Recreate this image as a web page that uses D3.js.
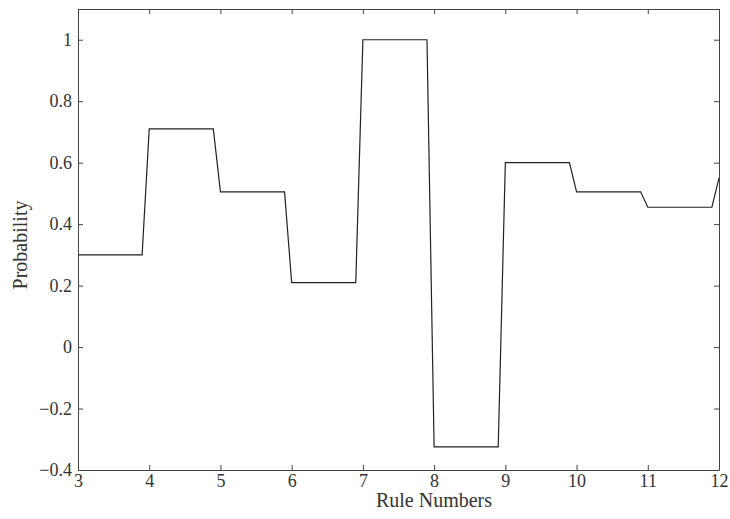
<!DOCTYPE html>
<html>
<head>
<meta charset="utf-8">
<script src="https://cdn.jsdelivr.net/npm/d3@7"></script>
<style>
  body { margin: 0; background: #fff; }
  text { font-family: "Liberation Serif", "DejaVu Serif", serif; fill: #333; }
</style>
</head>
<body>
<div id="chart"></div>
<script>
// rule number positions and probability values
var ruleX = [3, 3.9, 4, 4.9, 5, 5.9, 6, 6.9, 7, 7.9, 8, 8.9, 9, 9.9, 10, 10.9, 11, 11.9, 12];
var probY = [0.30, 0.30, 0.71, 0.71, 0.505, 0.505, 0.21, 0.21, 1.0, 1.0, -0.325, -0.325, 0.60, 0.60, 0.505, 0.505, 0.455, 0.455, 0.55];
var xTicks = [3, 4, 5, 6, 7, 8, 9, 10, 11, 12];
var yTicks = [-0.4, -0.2, 0, 0.2, 0.4, 0.6, 0.8, 1];

var svgWidth = 730, svgHeight = 519;
var margin = { top: 9, right: 11, bottom: 49, left: 78 };
var width = svgWidth - margin.left - margin.right;
var height = svgHeight - margin.top - margin.bottom;

var svg = d3.select("#chart").append("svg")
  .attr("width", svgWidth)
  .attr("height", svgHeight);

var g = svg.append("g")
  .attr("transform", `translate(${margin.left}, ${margin.top})`);

var x = d3.scaleLinear().domain([3, 12]).range([0, width]);
var y = d3.scaleLinear().domain([-0.4, 1.1]).range([height, 0]);

// matlab style labels, real minus sign
var fmt = function(d) { return d === 0 ? "0" : (d < 0 ? "\u2212" : "") + String(Math.abs(d)); };

// axes with inward ticks (box style)
function styleAxis(sel) {
  sel.select(".domain").attr("stroke", "#444");
  sel.selectAll(".tick line").attr("stroke", "#444");
  sel.selectAll(".tick text").style("font-size", "18px").attr("fill", "#333");
}

g.append("g")
  .attr("transform", `translate(0, ${height})`)
  .call(d3.axisBottom(x).tickValues(xTicks).tickSize(-5).tickSizeOuter(0).tickPadding(4).tickFormat(d3.format("d")))
  .call(styleAxis);

g.append("g")
  .call(d3.axisLeft(y).tickValues(yTicks).tickSize(-5).tickSizeOuter(0).tickPadding(6).tickFormat(fmt))
  .call(styleAxis);

g.append("g")
  .call(d3.axisTop(x).tickValues(xTicks).tickSize(-5).tickSizeOuter(0).tickFormat(""))
  .call(styleAxis);

g.append("g")
  .attr("transform", `translate(${width}, 0)`)
  .call(d3.axisRight(y).tickValues(yTicks).tickSize(-5).tickSizeOuter(0).tickFormat(""))
  .call(styleAxis);

// the line
var pts = ruleX.map(function(v, i) { return [v, probY[i]]; });
g.append("path")
  .datum(pts)
  .attr("fill", "none")
  .attr("stroke", "#222")
  .attr("stroke-width", 1.2)
  .attr("d", d3.line().x(d => x(d[0])).y(d => y(d[1])));

// axis labels
svg.append("text")
  .attr("x", 434)
  .attr("y", 507)
  .attr("text-anchor", "middle")
  .style("font-size", "20px")
  .text("Rule Numbers");

svg.append("text")
  .attr("transform", "translate(27, 245) rotate(-90)")
  .attr("text-anchor", "middle")
  .style("font-size", "20px")
  .text("Probability");
</script>
</body>
</html>
